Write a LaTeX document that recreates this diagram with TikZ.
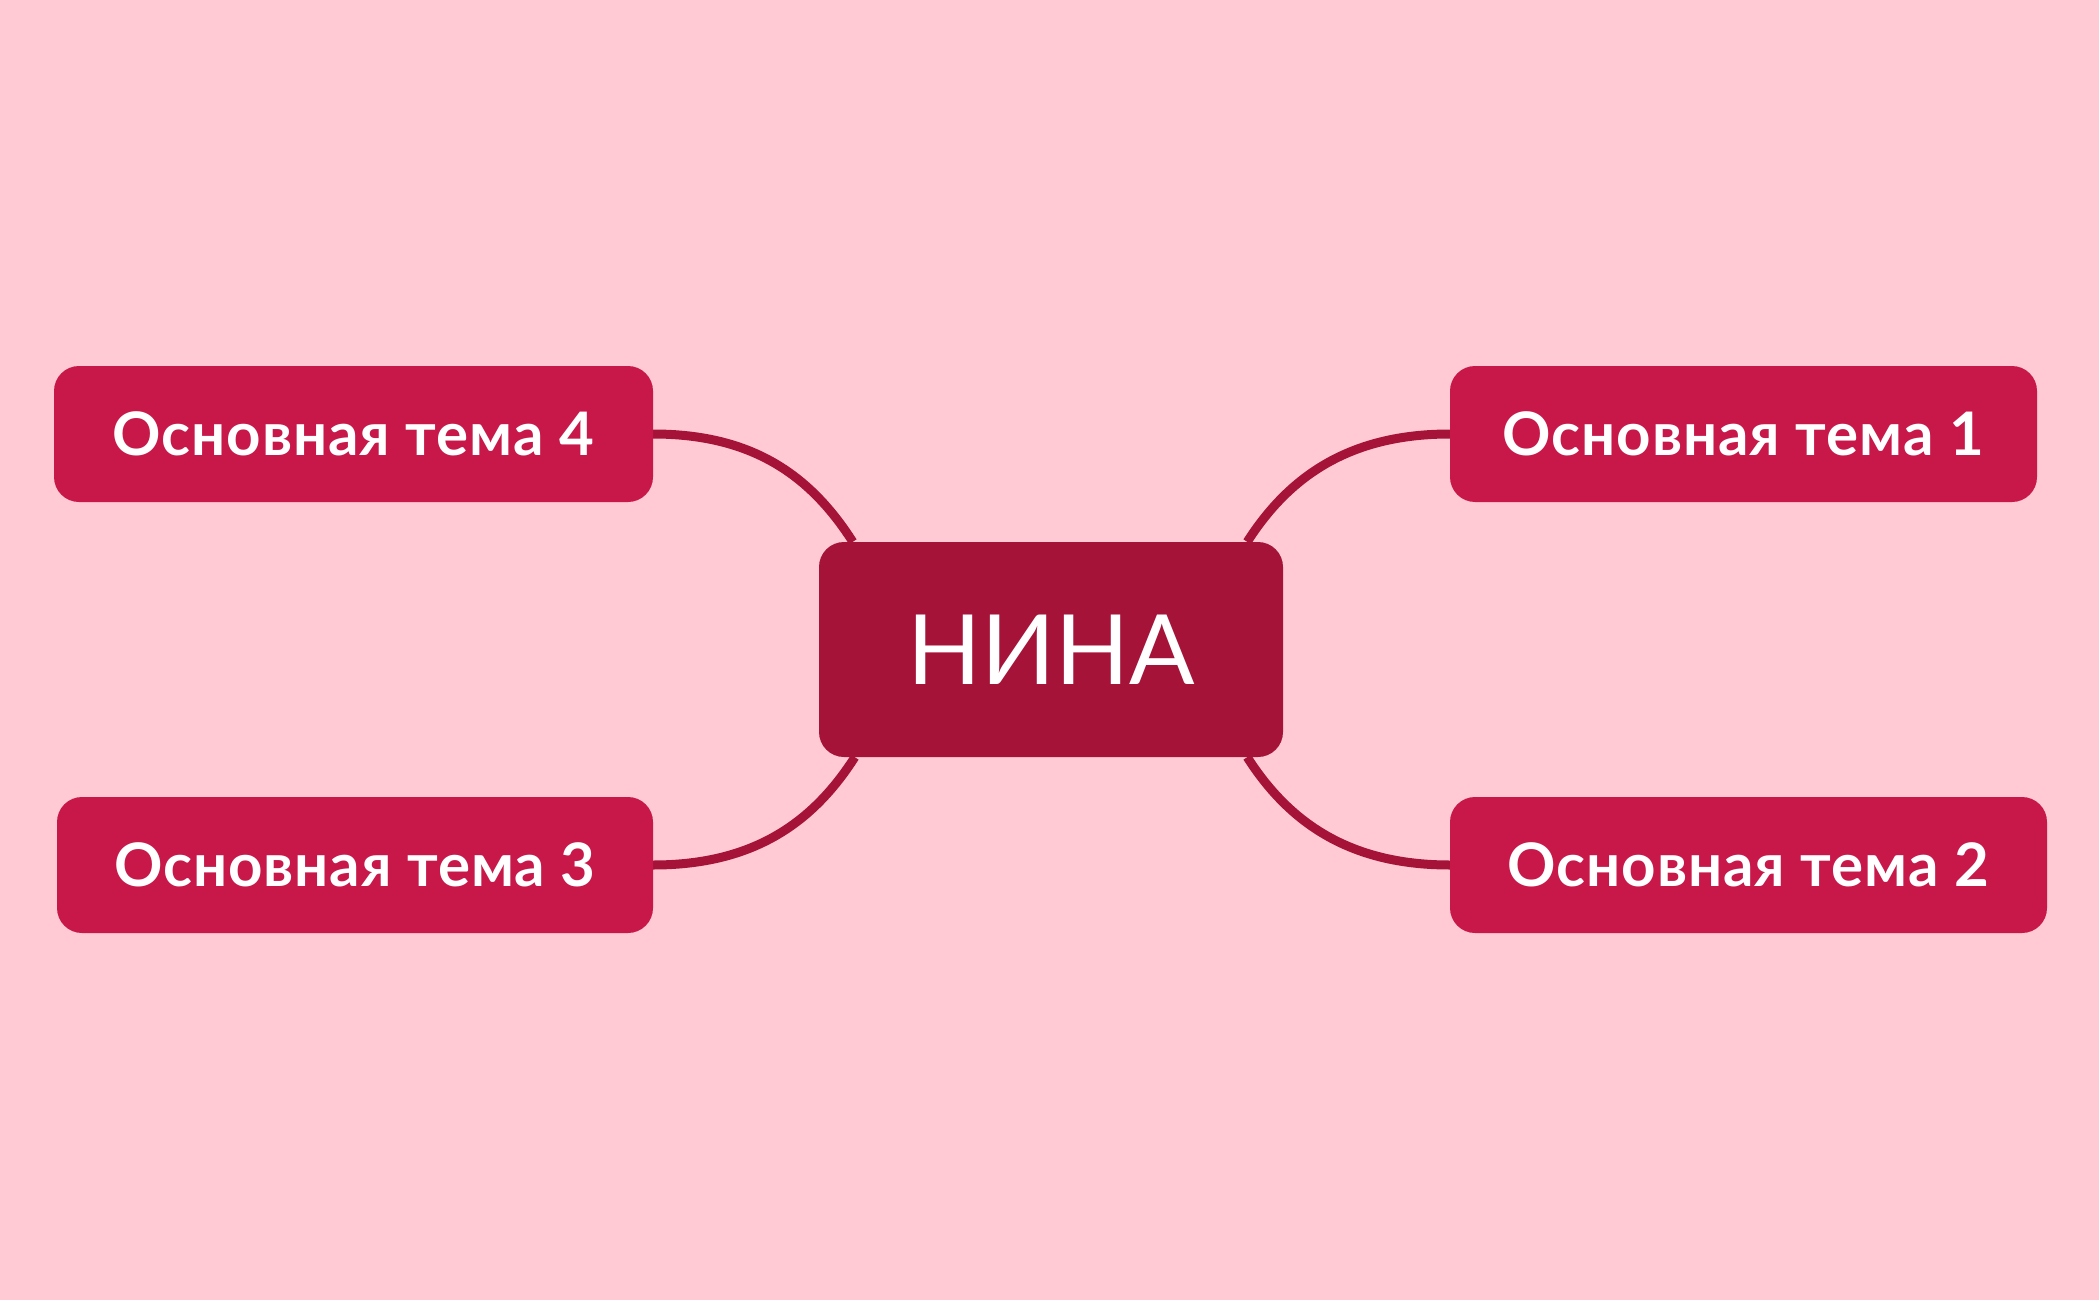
\documentclass[tikz,border=0pt]{standalone}
\usepackage{fontspec}
\setmainfont{Lato}
\newfontfamily\topicfont{Lato}[LetterSpace=1.5]
\usetikzlibrary{backgrounds}
\definecolor{bgpink}{HTML}{FFCAD3}
\definecolor{topicred}{HTML}{C8184A}
\definecolor{centralred}{HTML}{A51339}
\begin{document}
\begin{tikzpicture}[x=1pt,y=-1pt,
  topicbox/.style={fill=topicred, rounded corners=25pt, text=white, inner sep=0pt,
    minimum height=136pt, font=\topicfont\fontsize{60}{62}\selectfont\bfseries},
  centralbox/.style={fill=centralred, rounded corners=25pt, text=white, inner sep=0pt,
    minimum width=464pt, minimum height=215pt, font=\fontsize{97}{100}\selectfont},
  link/.style={draw=centralred, line width=9pt}]
\begin{scope}[on background layer]
\fill[bgpink] (0,0) rectangle (2099,1300);
\end{scope}
\useasboundingbox (0,0) rectangle (2099,1300);
\node[centralbox] (c) at (1051,649.5) {НИНА};
\node[topicbox, minimum width=599pt] (t4) at (353.5,434) {Основная тема 4};
\node[topicbox, minimum width=596pt] (t3) at (355,865) {Основная тема 3};
\node[topicbox, minimum width=587pt] (t1) at (1743.5,434) {Основная тема 1};
\node[topicbox, minimum width=597pt] (t2) at (1748.5,865) {Основная тема 2};
\coordinate (c4) at ([xshift=34pt]c.north west);
\coordinate (c1) at ([xshift=-36pt]c.north east);
\coordinate (c3) at ([xshift=36pt]c.south west);
\coordinate (c2) at ([xshift=-36pt]c.south east);
\begin{scope}[on background layer]
\draw[link] (t4.east) .. controls +(102,0) and +(-41,-64) .. (c4);
\draw[link] (t1.west) .. controls +(-102,0) and +(41,-64) .. (c1);
\draw[link] (t3.east) .. controls +(102,0) and +(-41,64) .. (c3);
\draw[link] (t2.west) .. controls +(-102,0) and +(41,64) .. (c2);
\end{scope}
\end{tikzpicture}
\end{document}
